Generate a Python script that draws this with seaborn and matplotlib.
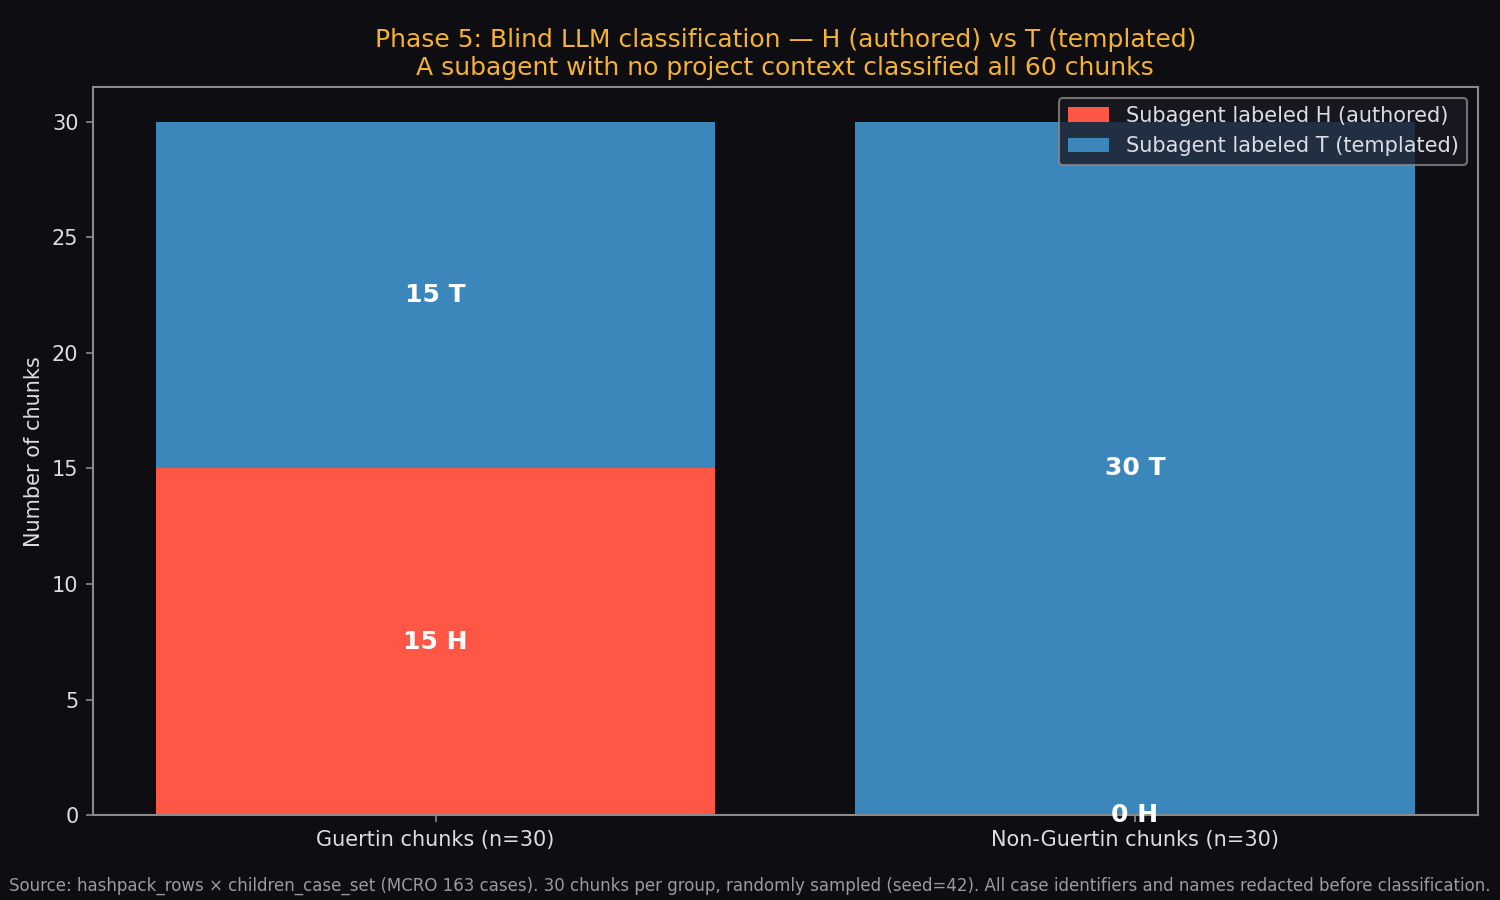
import matplotlib
matplotlib.use("Agg")
import matplotlib.pyplot as plt
import seaborn as sns

# Data
groups = ["Guertin chunks (n=30)", "Non-Guertin chunks (n=30)"]
h_counts = [15, 0]
t_counts = [15, 30]
h_label = "Subagent labeled H (authored)"
t_label = "Subagent labeled T (templated)"

BG = "#0d0d12"
FG = "#dcdce4"
EDGE = "#8a8a8a"
RED = "#ff5745"
BLUE = "#3b86ba"
GOLD = "#f5b330"

plt.rcParams.update({
    "font.family": ["DejaVu Sans"],
    "figure.facecolor": BG,
    "axes.facecolor": BG,
    "axes.edgecolor": EDGE,
    "axes.labelcolor": FG,
    "text.color": FG,
    "xtick.color": EDGE,
    "ytick.color": EDGE,
    "xtick.labelcolor": FG,
    "ytick.labelcolor": FG,
    "axes.grid": False,
    "font.size": 10,
})

fig, ax = plt.subplots(figsize=(10, 6), dpi=150)
fig.subplots_adjust(left=0.062, right=0.985, top=0.903, bottom=0.0944)

sns.barplot(x=groups, y=h_counts, color=RED, label=h_label, width=0.8,
            saturation=1, linewidth=0, ax=ax)
sns.barplot(x=groups, y=t_counts, bottom=h_counts, color=BLUE, label=t_label,
            width=0.8, saturation=1, linewidth=0, ax=ax)
ax.set_xlim(-0.49, 1.49)

for i in range(len(groups)):
    ax.text(i, h_counts[i] / 2, f"{h_counts[i]} H", ha="center", va="center",
            color="white", fontsize=12, fontweight="bold")
    ax.text(i, h_counts[i] + t_counts[i] / 2, f"{t_counts[i]} T", ha="center",
            va="center", color="white", fontsize=12, fontweight="bold")

ax.set_ylabel("Number of chunks", fontsize=10)
ax.set_title("Phase 5: Blind LLM classification \u2014 H (authored) vs T (templated)\n"
             "A subagent with no project context classified all 60 chunks",
             color=GOLD, fontsize=12, pad=6)
for s in ax.spines.values():
    s.set_color(EDGE)
    s.set_linewidth(1)

leg = ax.legend(loc="upper right", facecolor="#1a1a24", edgecolor=EDGE,
                framealpha=0.8, fontsize=10)
for t in leg.get_texts():
    t.set_color(FG)

fig.text(0.5, 0.006,
         "Source: hashpack_rows \u00d7 children_case_set (MCRO 163 cases). 30 chunks per group, "
         "randomly sampled (seed=42). All case identifiers and names redacted before classification.",
         ha="center", va="bottom", fontsize=8, color="#9a9aa0")

fig.savefig("out.png", dpi=150, facecolor=BG)
